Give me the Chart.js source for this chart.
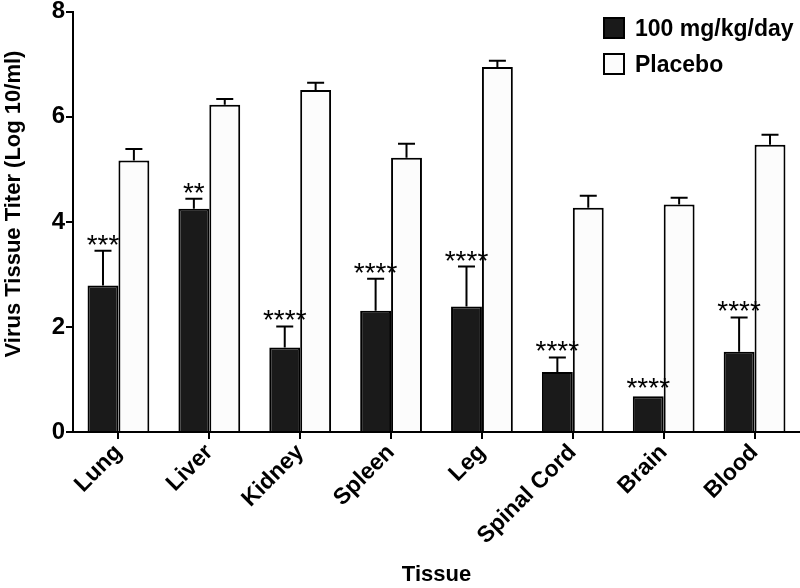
<!DOCTYPE html>
<html>
<head>
<meta charset="utf-8">
<title>Virus Tissue Titer</title>
<script src="https://cdn.jsdelivr.net/npm/chart.js@4.4.1/dist/chart.umd.min.js"></script>
<style>
  html, body { margin: 0; padding: 0; background: #fff; }
  #wrap { width: 800px; height: 588px; }
</style>
</head>
<body>
<div id="wrap"><canvas id="grafico" width="800" height="588"></canvas></div>
<script>
const FONTE = "'Liberation Sans', Arial, Helvetica, sans-serif";

const tecidos = ['Lung', 'Liver', 'Kidney', 'Spleen', 'Leg', 'Spinal Cord', 'Brain', 'Blood'];
const tratado = [2.79, 4.25, 1.61, 2.31, 2.39, 1.14, 0.68, 1.53];
const tratadoErro = [0.66, 0.19, 0.40, 0.61, 0.76, 0.28, 0, 0.65];
const placebo = [5.17, 6.23, 6.51, 5.22, 6.95, 4.27, 4.33, 5.47];
const placeboErro = [0.22, 0.11, 0.14, 0.27, 0.12, 0.23, 0.13, 0.19];
const asteriscos = ['***', '**', '****', '****', '****', '****', '****', '****'];
const yTicks = [0, 2, 4, 6, 8];

// barras de erro (so para cima), asteriscos, titulo do eixo y e legenda
const extras = {
    id: 'extras',
    afterDatasetsDraw(chart) {
        const ctx = chart.ctx;
        const y = chart.scales.y;
        const erros = [tratadoErro, placeboErro];
        ctx.save();
        ctx.strokeStyle = '#000';
        ctx.lineWidth = 2;
        chart.data.datasets.forEach((ds, i) => {
            const meta = chart.getDatasetMeta(i);
            meta.data.forEach((bar, j) => {
                const e = erros[i][j];
                if (!e) return;
                const yTop = y.getPixelForValue(ds.data[j] + e);
                ctx.beginPath();
                ctx.moveTo(bar.x, bar.y);
                ctx.lineTo(bar.x, yTop);
                ctx.moveTo(bar.x - 8.5, yTop);
                ctx.lineTo(bar.x + 8.5, yTop);
                ctx.stroke();
            });
        });
        // asteriscos acima das barras do grupo tratado
        const meta0 = chart.getDatasetMeta(0);
        ctx.fillStyle = '#000';
        ctx.font = 'normal 28px ' + FONTE;
        ctx.textAlign = 'center';
        ctx.textBaseline = 'alphabetic';
        meta0.data.forEach((bar, j) => {
            const topo = y.getPixelForValue(tratado[j] + tratadoErro[j]);
            ctx.fillText(asteriscos[j], bar.x, topo + (tratadoErro[j] ? 3 : 1));
        });
        ctx.restore();
    },
    afterDraw(chart) {
        const ctx = chart.ctx;
        ctx.save();
        // titulo do eixo y
        ctx.fillStyle = '#000';
        ctx.font = 'bold 22px ' + FONTE;
        ctx.textAlign = 'center';
        ctx.textBaseline = 'middle';
        ctx.translate(14, 204);
        ctx.rotate(-Math.PI / 2);
        ctx.fillText('Virus Tissue Titer (Log 10/ml)', 0, 0);
        ctx.restore();

        // legenda
        ctx.save();
        ctx.font = 'bold 23px ' + FONTE;
        ctx.textAlign = 'left';
        ctx.textBaseline = 'alphabetic';
        ctx.lineWidth = 2;
        chart.data.datasets.forEach((ds, i) => {
            const top = 18 + i * 36;
            ctx.fillStyle = ds.backgroundColor;
            ctx.fillRect(604, top, 20, 20);
            ctx.strokeStyle = '#000';
            ctx.strokeRect(604, top, 20, 20);
            ctx.fillStyle = '#000';
            ctx.fillText(ds.label, 635, top + 18);
        });
        ctx.restore();
    }
};

const ctx = document.getElementById('grafico').getContext('2d');
new Chart(ctx, {
    type: 'bar',
    data: {
        labels: tecidos,
        datasets: [
            {
                label: '100 mg/kg/day',
                data: tratado,
                backgroundColor: '#1a1a1a',
                borderColor: '#000',
                borderWidth: 2,
                categoryPercentage: 0.68,
                barPercentage: 1.0
            },
            {
                label: 'Placebo',
                data: placebo,
                backgroundColor: '#fcfcfc',
                borderColor: '#000',
                borderWidth: 2,
                categoryPercentage: 0.68,
                barPercentage: 1.0
            }
        ]
    },
    options: {
        responsive: false,
        animation: false,
        layout: { padding: { top: 11, right: 0, left: 0, bottom: 0 } },
        plugins: {
            legend: { display: false },
            tooltip: { enabled: false }
        },
        scales: {
            x: {
                grid: { display: true, drawOnChartArea: false, offset: false, tickLength: 7, color: '#000', lineWidth: 2 },
                border: { display: true, color: '#000', width: 2 },
                ticks: {
                    color: '#000',
                    font: { family: FONTE, size: 23, weight: 'bold' },
                    maxRotation: 45,
                    minRotation: 45,
                    padding: 0,
                    autoSkip: false
                },
                title: {
                    display: true,
                    text: 'Tissue',
                    color: '#000',
                    font: { family: FONTE, size: 22, weight: 'bold' },
                    padding: { top: 0, bottom: 0 }
                },
                afterFit(scale) { scale.height = 156; }
            },
            y: {
                min: 0,
                max: 8,
                afterBuildTicks(scale) { scale.ticks = yTicks.map(v => ({ value: v })); },
                grid: { display: true, drawOnChartArea: false, tickLength: 7, color: '#000', lineWidth: 2 },
                border: { display: true, color: '#000', width: 2 },
                ticks: {
                    color: '#000',
                    font: { family: FONTE, size: 24, weight: 'bold', lineHeight: 0.9 },
                    padding: 1
                },
                afterFit(scale) { scale.width = 73; }
            }
        }
    },
    plugins: [extras]
});
</script>
</body>
</html>
